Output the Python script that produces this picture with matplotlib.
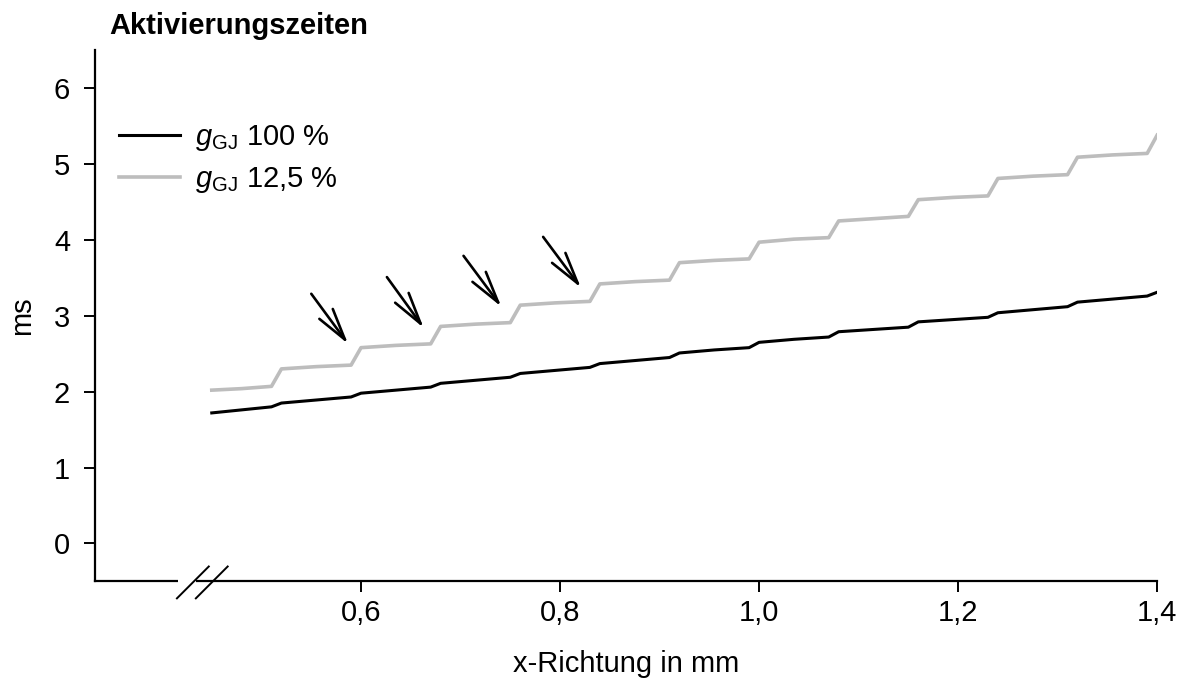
import numpy as np
import matplotlib
matplotlib.use("Agg")
import matplotlib.pyplot as plt

plt.rcParams['font.family'] = ['Liberation Sans', 'DejaVu Sans']
plt.rcParams['mathtext.fontset'] = 'custom'
plt.rcParams['mathtext.rm'] = 'Liberation Sans'
plt.rcParams['mathtext.it'] = 'Liberation Sans:italic'

# x positions in mm (stepwise activation front)
x = [0.45, 0.48, 0.51, 0.52, 0.555, 0.59, 0.60, 0.635, 0.67, 0.68, 0.715, 0.75,
     0.76, 0.795, 0.83, 0.84, 0.875, 0.91, 0.92, 0.955, 0.99, 1.00, 1.035, 1.07,
     1.08, 1.115, 1.15, 1.16, 1.195, 1.23, 1.24, 1.275, 1.31, 1.32, 1.355, 1.39, 1.40]

# activation times in ms, g_GJ 100 %
t_100 = [1.72, 1.76, 1.80, 1.85, 1.89, 1.93, 1.98, 2.02, 2.06, 2.11, 2.15, 2.19,
         2.24, 2.28, 2.32, 2.37, 2.41, 2.45, 2.51, 2.55, 2.58, 2.65, 2.69, 2.72,
         2.79, 2.82, 2.85, 2.92, 2.95, 2.98, 3.04, 3.08, 3.12, 3.18, 3.22, 3.26, 3.31]

# activation times in ms, g_GJ 12,5 %
t_125 = [2.02, 2.04, 2.07, 2.30, 2.33, 2.35, 2.58, 2.61, 2.63, 2.86, 2.89, 2.91,
         3.14, 3.17, 3.19, 3.42, 3.45, 3.47, 3.70, 3.73, 3.75, 3.97, 4.01, 4.03,
         4.25, 4.28, 4.31, 4.53, 4.56, 4.58, 4.81, 4.84, 4.86, 5.09, 5.12, 5.14, 5.38]

# arrows (tail -> tip) marking the jumps
arrow_tail = [(0.550, 3.29), (0.626, 3.51), (0.703, 3.79), (0.783, 4.04)]
arrow_tip = [(0.587, 2.63), (0.663, 2.84), (0.741, 3.12), (0.821, 3.37)]

xticks = [0.6, 0.8, 1.0, 1.2, 1.4]
yticks = [0, 1, 2, 3, 4, 5, 6]

fs = 21

fig = plt.figure(figsize=(11.88, 6.88), dpi=100)
ax = fig.add_axes([0.080, 0.155, 0.894, 0.772])

ax.plot(x, t_100, color='black', lw=2.2, label=r'$g_{\mathrm{GJ}}$ 100 %')
ax.plot(x, t_125, color='#bdbdbd', lw=2.6, label=r'$g_{\mathrm{GJ}}$ 12,5 %')

for (tx, ty), (hx, hy) in zip(arrow_tail, arrow_tip):
    ax.annotate('', xy=(hx, hy), xytext=(tx, ty),
                arrowprops=dict(arrowstyle='->, head_length=1.15, head_width=0.3',
                                lw=1.9, color='black', mutation_scale=20,
                                shrinkA=0, shrinkB=0))

ax.set_xlim(0.3327, 1.4)
ax.set_ylim(-0.5, 6.5)
ax.set_xticks(xticks)
ax.set_xticklabels([f'{v:.1f}'.replace('.', ',') for v in xticks])
ax.set_yticks(yticks)

for s in ['top', 'right']:
    ax.spines[s].set_visible(False)
for s in ['left', 'bottom']:
    ax.spines[s].set_linewidth(1.6)
ax.tick_params(direction='out', length=8, width=1.4, labelsize=fs)
ax.tick_params(axis='y', pad=10)
ax.tick_params(axis='x', pad=5)

ax.set_xlabel('x-Richtung in mm', fontsize=fs, labelpad=16)
ax.set_ylabel('ms', fontsize=fs, labelpad=13)

# axis break on x
tr = ax.get_xaxis_transform()
ax.plot([0.416, 0.434], [0.0, 0.0], color='white', lw=4, transform=tr,
        clip_on=False, zorder=5, solid_capstyle='butt')
for x0 in [0.415, 0.434]:
    ax.plot([x0, x0 + 0.032], [-0.032, 0.028], color='black', lw=1.4,
            transform=tr, clip_on=False, zorder=6)

leg = ax.legend(loc='upper left', bbox_to_anchor=(-0.002, 0.912), frameon=False,
                fontsize=fs, handlelength=2.1, labelspacing=0.4,
                handletextpad=0.5)

fig.text(0.092, 0.962, 'Aktivierungszeiten', fontsize=fs, fontweight='bold',
         ha='left', va='center')

fig.savefig('out.png', dpi=100)
